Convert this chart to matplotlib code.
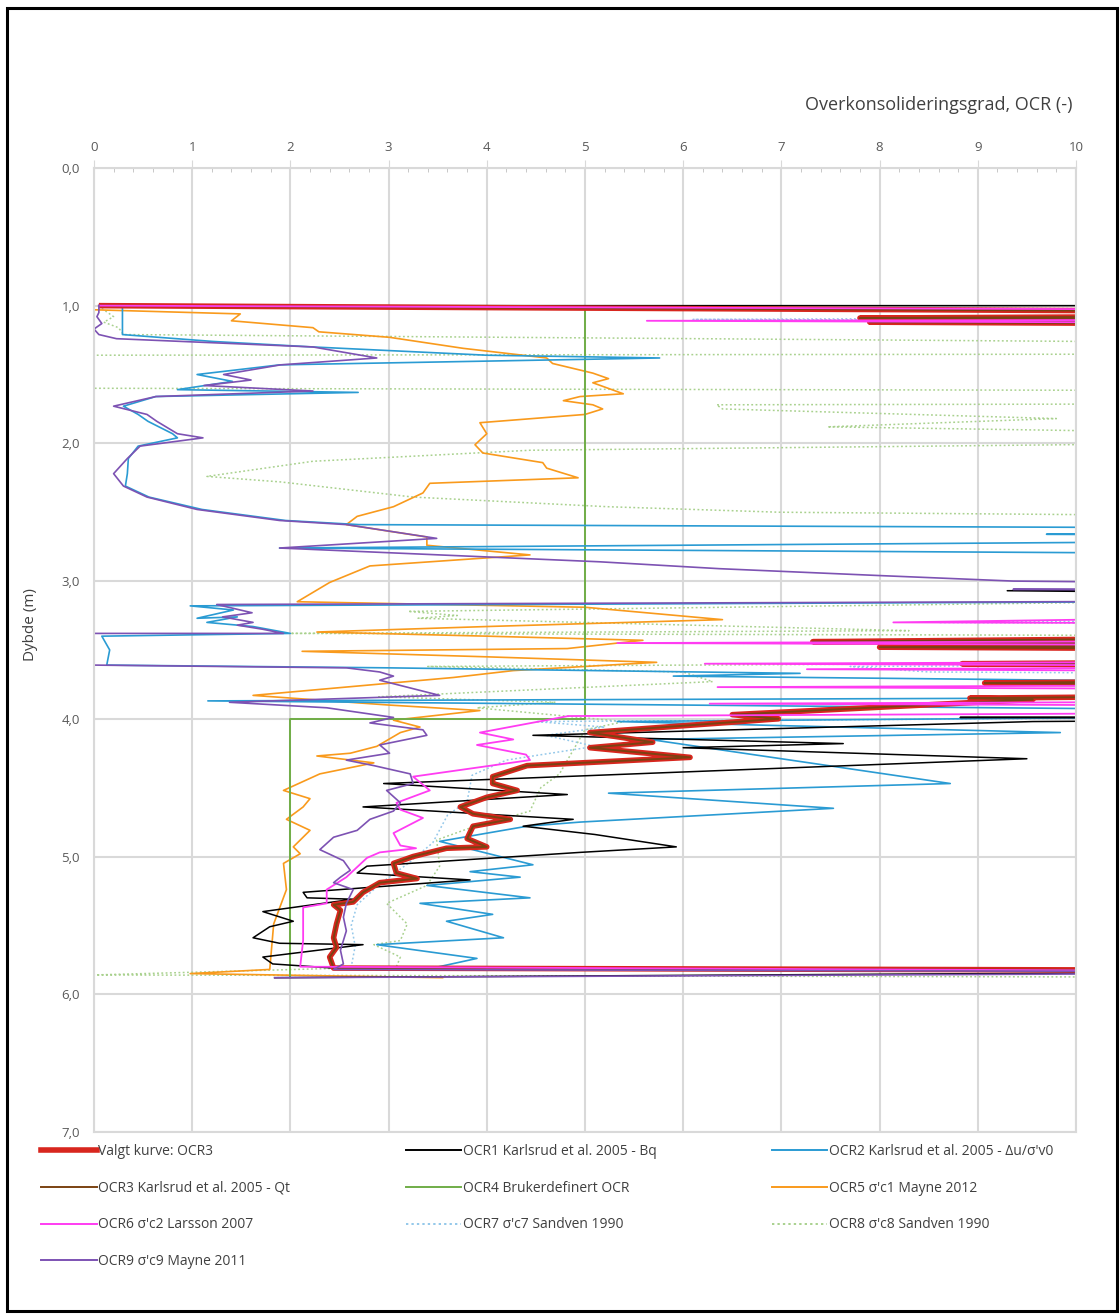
import numpy as np
import matplotlib.pyplot as plt
import matplotlib.patches as patches
from matplotlib.lines import Line2D

plt.rcParams['font.family'] = ['Open Sans', 'DejaVu Sans']

# verdier > 10 ligger utenfor diagrammet (klippes av aksen)
UT = 14

# OCR1 Karlsrud - Bq
ocr1_dybde = [1.00, 1.00, 3.05, 3.07, 3.10, 3.98, 3.99, 4.00, 4.02, 4.12, 4.18, 4.21, 4.29, 4.47,
              4.55, 4.64, 4.73, 4.78, 4.84, 4.93, 4.97, 5.07, 5.12, 5.17, 5.26, 5.30, 5.31, 5.40,
              5.47, 5.51, 5.59, 5.63, 5.64, 5.73, 5.78, 5.81, 5.83, 5.88]
ocr1_verdi = [0.85, UT, UT, 9.3, UT, UT, 8.82, UT, 9.56, 4.47, 7.63, 6.0, 9.5, 2.95,
              4.82, 2.74, 4.88, 4.37, 5.1, 5.93, 4.95, 2.78, 2.68, 3.83, 2.13, 2.17, 2.64, 1.72,
              2.03, 1.79, 1.62, 1.89, 2.74, 1.72, 1.82, 2.44, UT, 1.84]

# OCR2 Karlsrud - du/s'v0
ocr2_dybde = [1.00, 1.21, 1.26, 1.30, 1.36, 1.38, 1.43, 1.50, 1.55, 1.61, 1.63, 1.66, 1.73, 1.79,
              1.84, 1.93, 1.96, 2.02, 2.11, 2.22, 2.31, 2.39, 2.48, 2.56, 2.59, 2.62, 2.65, 2.66,
              2.68, 2.70, 2.76, 2.81, 3.14, 3.18, 3.21, 3.27, 3.26, 3.30, 3.33, 3.38, 3.40, 3.50,
              3.61, 3.63, 3.67, 3.69, 3.75, 3.84, 3.87, 3.95, 3.97, 4.02, 4.10, 4.15, 4.47, 4.54,
              4.65, 4.75, 4.78, 4.89, 5.06, 5.11, 5.15, 5.21, 5.30, 5.34, 5.42, 5.47, 5.59, 5.64,
              5.74, 5.81, 5.84]
ocr2_verdi = [0.29, 0.29, 1.21, 2.23, 4.0, 5.76, 1.89, 1.05, 1.41, 0.85, 2.69, 0.63, 0.30, 0.45,
              0.55, 0.80, 0.85, 0.45, 0.35, 0.34, 0.32, 0.56, 1.10, 1.95, 2.70, UT, UT, 9.7,
              UT, UT, 1.89, UT, UT, 0.98, 1.42, 1.05, 1.46, 1.15, 1.62, 2.0, 0.08, 0.16,
              0.13, 3.0, 7.19, 5.9, UT, UT, 1.16, UT, UT, 5.33, 9.84, 5.66, 8.72, 5.24,
              7.53, 4.95, 4.41, 3.52, 4.47, 3.83, 4.34, 3.39, 4.44, 3.32, 4.06, 3.59, 4.17, 2.88,
              3.90, 3.45, UT]

# OCR3 Karlsrud - Qt (valgt kurve)
ocr3_dybde = [1.00, 1.05, 1.07, 1.09, 1.10, 1.12, 1.14, 3.40, 3.44, 3.46, 3.48, 3.50, 3.58, 3.60,
              3.63, 3.71, 3.74, 3.76, 3.82, 3.85, 3.86, 3.97, 4.00, 4.10, 4.17, 4.21, 4.28, 4.34,
              4.42, 4.47, 4.52, 4.57, 4.64, 4.69, 4.73, 4.78, 4.87, 4.93, 4.94, 5.00, 5.05, 5.12,
              5.16, 5.19, 5.26, 5.33, 5.35, 5.39, 5.49, 5.59, 5.66, 5.73, 5.81, 5.83]
ocr3_verdi = [0.05, UT, UT, 7.8, UT, 7.9, UT, UT, 7.32, UT, 8.0, UT, UT, 8.84,
              UT, UT, 9.07, UT, UT, 8.92, 9.56, 6.5, 6.97, 5.05, 5.69, 5.05, 6.07, 4.41,
              4.06, 4.06, 4.31, 4.0, 3.73, 3.86, 4.24, 3.86, 3.8, 4.0, 3.59, 3.25, 3.05, 3.08,
              3.29, 2.91, 2.74, 2.64, 2.44, 2.51, 2.47, 2.44, 2.47, 2.40, 2.44, UT]

# OCR4 brukerdefinert
ocr4_dybde = [1.03, 4.00, 4.00, 5.87]
ocr4_verdi = [5.0, 5.0, 2.0, 2.0]

# OCR5 s'c1 Mayne 2012
ocr5_dybde = [1.03, 1.06, 1.11, 1.16, 1.19, 1.23, 1.31, 1.38, 1.42, 1.49, 1.53, 1.56, 1.64, 1.66,
              1.69, 1.72, 1.75, 1.79, 1.85, 1.93, 2.01, 2.07, 2.14, 2.18, 2.25, 2.29, 2.36, 2.46,
              2.53, 2.59, 2.68, 2.74, 2.81, 2.89, 3.01, 3.15, 3.19, 3.28, 3.33, 3.37, 3.40, 3.43,
              3.49, 3.51, 3.55, 3.59, 3.65, 3.70, 3.83, 3.90, 3.94, 4.01, 4.06, 4.10, 4.20, 4.25,
              4.27, 4.32, 4.40, 4.52, 4.58, 4.64, 4.73, 4.81, 4.93, 4.98, 5.05, 5.24, 5.49, 5.82,
              5.85, 5.88]
ocr5_verdi = [0.0, 1.49, 1.40, 2.23, 2.29, 3.01, 3.76, 4.61, 4.67, 5.08, 5.24, 5.08, 5.39, 4.95,
              4.78, 5.08, 5.18, 5.0, 3.93, 4.0, 3.88, 3.96, 4.57, 4.61, 4.93, 3.42, 3.35, 3.05,
              2.68, 2.57, 3.39, 3.39, 4.44, 2.81, 2.40, 2.07, 5.0, 6.4, 4.0, 2.27, 4.0, 5.59,
              4.82, 2.12, 4.0, 5.73, 4.27, 3.66, 1.62, 3.0, 3.93, 3.05, 3.32, 3.12, 2.88, 2.61,
              2.27, 2.85, 2.30, 1.93, 2.20, 2.13, 1.96, 2.20, 2.03, 2.10, 1.93, 1.96, 1.83, 1.79,
              0.98, 3.55]

# OCR6 s'c2 Larsson 2007
ocr6_dybde = [1.00, 1.035, 1.10, 1.11, 1.13, 3.24, 3.30, 3.31, 3.43, 3.45, 3.47, 3.58, 3.60, 3.62,
              3.64, 3.66, 3.75, 3.77, 3.79, 3.87, 3.89, 3.91, 3.95, 3.98, 4.10, 4.15, 4.19, 4.26,
              4.30, 4.42, 4.52, 4.61, 4.66, 4.72, 4.83, 4.92, 4.94, 4.97, 5.01, 5.15, 5.24, 5.34,
              5.37, 5.61, 5.80, 5.84]
ocr6_verdi = [0.05, UT, UT, 5.63, UT, UT, 8.14, UT, UT, 5.33, UT, UT, 6.22, UT,
              7.26, UT, UT, 6.35, UT, UT, 6.27, UT, UT, 4.83, 3.93, 4.27, 3.90, 4.40,
              4.44, 3.25, 3.42, 3.08, 3.12, 3.35, 3.05, 3.12, 3.28, 2.91, 2.78, 2.57, 2.37, 2.37,
              2.13, 2.13, 2.10, UT]

# OCR7 s'c7 Sandven 1990
ocr7_dybde = [1.00, 1.03, 1.08, 1.10, 1.12, 3.27, 3.30, 3.32, 3.60, 3.62, 3.66, 3.68, 3.98, 4.02,
              4.06, 4.12, 4.20, 4.30, 4.41, 4.60, 4.70, 4.90, 5.05, 5.20, 5.35, 5.50, 5.65, 5.80,
              5.84]
ocr7_verdi = [0.10, UT, UT, 6.1, UT, UT, 8.6, UT, UT, 7.7, 8.5, UT, UT, 4.5,
              5.2, 4.6, 5.1, 4.2, 3.85, 3.8, 3.6, 3.45, 3.2, 2.91, 2.68, 2.62, 2.66, 2.62,
              UT]

# OCR8 s'c8 Sandven 1990
ocr8_dybde = [1.02, 1.08, 1.12, 1.16, 1.21, 1.28, 1.35, 1.36, 1.60, 1.62, 1.71, 1.72, 1.75, 1.82,
              1.88, 1.95, 1.98, 2.05, 2.13, 2.24, 2.28, 2.39, 2.46, 2.50, 2.54, 3.12, 3.22, 3.25,
              3.27, 3.36, 3.38, 3.40, 3.58, 3.62, 3.66, 3.73, 3.84, 3.88, 3.92, 4.02, 4.08, 4.40,
              4.50, 4.67, 4.80, 4.88, 5.07, 5.21, 5.34, 5.49, 5.61, 5.64, 5.73, 5.80, 5.86, 5.88]
ocr8_verdi = [0.08, 0.20, 0.10, 0.25, 0.30, UT, UT, 0.0, 0.0, UT, UT, 6.34, 6.4, 9.8,
              7.47, UT, UT, 4.44, 2.23, 1.15, 1.9, 3.25, 5.23, 6.98, UT, UT, 3.2, 3.7,
              3.3, 8.3, 2.0, UT, UT, 3.4, 6.0, 6.3, 2.9, 4.7, 3.9, 5.4, 5.0, 4.74,
              4.55, 4.44, 3.8, 3.49, 3.52, 3.39, 2.98, 3.19, 3.12, 2.85, 3.12, 3.08, 0.0, UT]

# OCR9 s'c9 Mayne 2011
ocr9_dybde = [1.00, 1.05, 1.08, 1.13, 1.17, 1.21, 1.24, 1.30, 1.38, 1.43, 1.50, 1.54, 1.58, 1.62,
              1.66, 1.73, 1.79, 1.84, 1.93, 1.96, 2.02, 2.11, 2.22, 2.31, 2.39, 2.48, 2.56, 2.59,
              2.69, 2.76, 2.86, 2.91, 2.96, 3.00, 3.03, 3.05, 3.06, 3.08, 3.14, 3.17, 3.23, 3.26,
              3.30, 3.32, 3.35, 3.38, 3.38, 3.61, 3.63, 3.66, 3.69, 3.72, 3.83, 3.88, 3.92, 3.99,
              4.03, 4.08, 4.12, 4.19, 4.25, 4.30, 4.34, 4.40, 4.47, 4.52, 4.61, 4.67, 4.73, 4.81,
              4.86, 4.95, 5.03, 5.10, 5.15, 5.19, 5.24, 5.34, 5.44, 5.54, 5.68, 5.78, 5.82, 5.84,
              5.88]
ocr9_verdi = [0.05, 0.05, 0.03, 0.08, 0.0, 0.05, 0.23, 2.23, 2.88, 1.90, 1.32, 1.60, 1.12, 2.23,
              0.63, 0.20, 0.54, 0.64, 0.85, 1.11, 0.47, 0.34, 0.20, 0.30, 0.54, 1.05, 1.89, 2.57,
              3.49, 1.89, 5.15, 6.37, 8.0, 9.36, UT, UT, 9.36, UT, UT, 1.25, 1.61, 1.31,
              1.62, 1.46, 1.72, 1.93, 0.0, 0.0, 2.57, 2.91, 3.05, 2.91, 3.52, 1.38, 2.37, 3.05,
              2.81, 3.35, 3.39, 2.91, 3.01, 2.57, 2.85, 3.22, 3.25, 2.98, 3.12, 3.05, 2.81, 2.68,
              2.44, 2.30, 2.54, 2.61, 2.51, 2.44, 2.64, 2.57, 2.54, 2.57, 2.51, 2.54, 2.44, UT,
              1.84]

etiketter = ["Valgt kurve: OCR3",
             "OCR1 Karlsrud et al. 2005 - Bq",
             "OCR2 Karlsrud et al. 2005 - \u0394u/\u03c3'v0",
             "OCR3 Karlsrud et al. 2005 - Qt",
             "OCR4 Brukerdefinert OCR",
             "OCR5 \u03c3'c1 Mayne 2012",
             "OCR6 \u03c3'c2 Larsson 2007",
             "OCR7 \u03c3'c7 Sandven 1990",
             "OCR8 \u03c3'c8 Sandven 1990",
             "OCR9 \u03c3'c9 Mayne 2011"]

x_ticks = [0, 1, 2, 3, 4, 5, 6, 7, 8, 9, 10]
y_ticks = [0, 1, 2, 3, 4, 5, 6, 7]

fig = plt.figure(figsize=(11.2, 13.15), dpi=100)
ax = fig.add_axes([0.0839, 0.1392, 0.8768, 0.7331])

rod = '#d8261e'
farger = {'ocr1': '#000000', 'ocr2': '#2a9bd3', 'ocr3': '#7b4212', 'ocr4': '#70ad47',
          'ocr5': '#f99a1c', 'ocr6': '#ff3cf2', 'ocr7': '#94c8ea', 'ocr8': '#a9d18e',
          'ocr9': '#7d52b3'}
prikk = (0, (1.2, 1.6))

ax.plot(ocr8_verdi, ocr8_dybde, color=farger['ocr8'], lw=1.1, ls=prikk)
ax.plot(ocr7_verdi, ocr7_dybde, color=farger['ocr7'], lw=1.1, ls=prikk)
ax.plot(ocr5_verdi, ocr5_dybde, color=farger['ocr5'], lw=1.2)
ax.plot(ocr4_verdi, ocr4_dybde, color=farger['ocr4'], lw=1.4)
ax.plot(ocr2_verdi, ocr2_dybde, color=farger['ocr2'], lw=1.2)
ax.plot(ocr1_verdi, ocr1_dybde, color=farger['ocr1'], lw=1.1)
ax.plot(ocr3_verdi, ocr3_dybde, color=rod, lw=4.0, solid_capstyle='butt')
ax.plot(ocr3_verdi, ocr3_dybde, color=farger['ocr3'], lw=1.4)
ax.plot(ocr6_verdi, ocr6_dybde, color=farger['ocr6'], lw=1.3)
ax.plot(ocr9_verdi, ocr9_dybde, color=farger['ocr9'], lw=1.2)

ax.set_xlim(0, 10)
ax.set_ylim(7, 0)
ax.xaxis.tick_top()
ax.set_xticks(x_ticks)
ax.set_xticks(np.arange(0, 10.01, 0.2), minor=True)
ax.set_yticks(y_ticks)
ax.set_yticklabels([('%.1f' % v).replace('.', ',') for v in y_ticks])
ax.grid(True, which='major', color='#d9d9d9', lw=1.5)
ax.set_axisbelow(True)
for s in ax.spines.values():
    s.set_color('#d9d9d9')
    s.set_linewidth(1.5)
ax.tick_params(axis='x', which='major', direction='out', length=6, color='#d9d9d9',
               labelsize=9.5, labelcolor='#595959', pad=4)
ax.tick_params(axis='x', which='minor', direction='in', length=3, color='#bfbfbf')
ax.tick_params(axis='y', which='major', length=0, labelsize=9.5, labelcolor='#595959', pad=10)

fig.text(0.958, 0.920, 'Overkonsolideringsgrad, OCR (-)', ha='right', va='center',
         fontsize=13, color='#404040')
fig.text(0.027, 0.525, 'Dybde (m)', rotation=90, ha='center', va='center',
         fontsize=11, color='#404040')

# legende: rader leses fra venstre mot hoyre
h = [Line2D([], [], color=rod, lw=4),
     Line2D([], [], color=farger['ocr1'], lw=1.4),
     Line2D([], [], color=farger['ocr2'], lw=1.4),
     Line2D([], [], color=farger['ocr3'], lw=1.4),
     Line2D([], [], color=farger['ocr4'], lw=1.4),
     Line2D([], [], color=farger['ocr5'], lw=1.4),
     Line2D([], [], color=farger['ocr6'], lw=1.4),
     Line2D([], [], color=farger['ocr7'], lw=1.4, ls=prikk),
     Line2D([], [], color=farger['ocr8'], lw=1.4, ls=prikk),
     Line2D([], [], color=farger['ocr9'], lw=1.4)]
rekkefolge = [0, 3, 6, 9, 1, 4, 7, 2, 5, 8]
leg = fig.legend([h[i] for i in rekkefolge], [etiketter[i] for i in rekkefolge],
                 loc='upper left', bbox_to_anchor=(0.032, 0.134), ncol=3, frameon=False,
                 fontsize=10, handlelength=4.0, handletextpad=0.1, columnspacing=8.3,
                 labelspacing=1.55, borderaxespad=0)
for t in leg.get_texts():
    t.set_color('#404040')

fig.patches.append(patches.Rectangle((0.006, 0.003), 0.991, 0.991, transform=fig.transFigure,
                                     fill=False, lw=2.2, ec='black'))

fig.savefig('out.png', dpi=100)
